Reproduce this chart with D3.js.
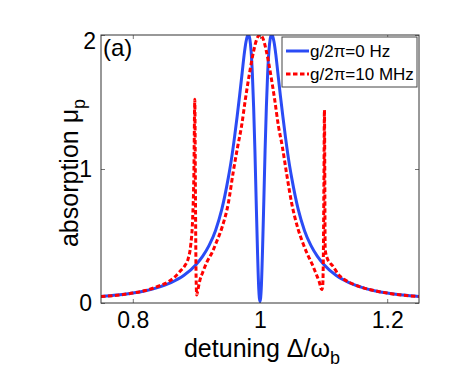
<!DOCTYPE html>
<html>
<head>
<meta charset="utf-8">
<script src="https://cdn.jsdelivr.net/npm/d3@7"></script>
<style>
  body { margin: 0; background: #fff; }
  svg { font-family: "Liberation Sans", Arial, sans-serif; }
</style>
</head>
<body>
<div id="chart"><svg></svg></div>
<script>
// detuning values (Delta / omega_b) and absorption
const blueX = [0.75,0.775,0.80,0.82,0.84,0.86,0.88,0.90,0.91,0.92,0.93,0.94,0.95,0.955,0.96,0.964,0.968,0.972,0.975,0.978,
               0.980,0.982,0.984,0.986,0.988,0.990,0.992,0.994,0.996,0.998,1.0,
               1.002,1.004,1.006,1.008,1.010,1.012,1.014,1.016,1.018,1.020,1.022,1.025,1.028,1.032,1.036,1.040,1.045,1.05,1.06,
               1.07,1.08,1.09,1.10,1.12,1.14,1.16,1.18,1.20,1.225,1.25];
const blueY = [0.048,0.059,0.074,0.092,0.117,0.152,0.205,0.29,0.35,0.43,0.54,0.70,0.93,1.07,1.24,1.39,1.55,1.72,1.85,1.95,
               1.99,2.0,1.97,1.88,1.71,1.46,1.14,0.76,0.40,0.11,0.01,
               0.11,0.40,0.76,1.14,1.46,1.71,1.88,1.97,2.0,1.99,1.95,1.85,1.72,1.55,1.39,1.24,1.07,0.93,0.70,
               0.54,0.43,0.35,0.29,0.205,0.152,0.117,0.092,0.074,0.059,0.048];

const redX = [0.75,0.775,0.80,0.82,0.84,0.855,0.865,0.875,0.882,0.887,
              0.891,0.894,0.896,0.8975,0.8985,0.8995,0.9005,0.902,0.905,0.910,
              0.916,0.925,0.932,0.940,0.950,0.958,0.965,0.971,0.977,0.983,
              0.990,0.995,1.000,1.005,1.010,1.017,1.023,1.029,1.035,1.042,
              1.050,1.060,1.068,1.075,1.082,1.088,1.093,1.097,1.0985,1.0995,
              1.1005,1.1013,1.1025,1.106,1.110,1.1155,1.122,1.131,1.14,1.16,
              1.18,1.20,1.225,1.25];
const redY = [0.048,0.058,0.074,0.093,0.125,0.155,0.19,0.24,0.28,0.33,
              0.43,0.62,0.95,1.52,0.80,0.20,0.06,0.09,0.16,0.23,
              0.30,0.38,0.46,0.56,0.74,0.98,1.17,1.32,1.52,1.70,
              1.88,1.97,2.0,1.97,1.88,1.70,1.52,1.32,1.17,0.96,
              0.74,0.55,0.44,0.36,0.29,0.22,0.16,0.10,0.12,0.30,
              0.90,1.44,0.40,0.33,0.30,0.27,0.22,0.18,0.155,0.117,
              0.092,0.074,0.058,0.048];

const xTicks = [0.8, 1, 1.2];
const yTicks = [0, 1, 2];
const seriesNames = ["g/2\u03c0=0 Hz", "g/2\u03c0=10 MHz"];

var margin = { top: 35, right: 50, bottom: 81, left: 101 },
    width = 469 - margin.left - margin.right,
    height = 384 - margin.top - margin.bottom;

const root = d3.select("#chart").select("svg")
    .attr("width", 469)
    .attr("height", 384);

root.append("rect").attr("width", 469).attr("height", 384).attr("fill", "#fff");

const svg = root.append("g")
    .attr("transform", "translate(" + margin.left + "," + margin.top + ")");

var x = d3.scaleLinear().domain([0.75, 1.25]).range([0, width]);
var y = d3.scaleLinear().domain([0, 2]).range([height, 0]);

svg.append("clipPath").attr("id", "clip")
  .append("rect").attr("width", width).attr("height", height);

// ticks inside the box (matlab style)
svg.append("g").attr("class", "x axis")
    .attr("transform", "translate(0," + height + ")")
    .call(d3.axisBottom(x).tickValues(xTicks).tickSize(-4).tickPadding(9).tickFormat(d3.format("")));
svg.append("g")
    .call(d3.axisTop(x).tickValues(xTicks).tickSize(-4).tickFormat(""));
svg.append("g").attr("class", "y axis")
    .call(d3.axisLeft(y).tickValues(yTicks).tickSize(-4).tickPadding(9).tickFormat(d3.format("")));
svg.append("g")
    .attr("transform", "translate(" + width + ",0)")
    .call(d3.axisRight(y).tickValues(yTicks).tickSize(-4).tickFormat(""));

svg.selectAll(".domain").remove();
svg.selectAll(".tick line").attr("stroke", "#777");
svg.selectAll(".tick text")
    .attr("fill", "#000")
    .style("font-size", "23px");

// the top y label sits a little lower in the figure
svg.selectAll(".y.axis .tick text").filter(function (d) { return d === 2; })
    .attr("dy", "0.6em").attr("x", -5);

var line = d3.line()
    .x(function (d) { return x(d[0]); })
    .y(function (d) { return y(d[1]); })
    .curve(d3.curveMonotoneX);

const plot = svg.append("g").attr("clip-path", "url(#clip)");

plot.append("path")
    .datum(blueX.map(function (v, i) { return [v, blueY[i]]; }))
    .attr("fill", "none")
    .attr("stroke", "#2a4bf5")
    .attr("stroke-width", 3)
    .attr("d", line);

plot.append("path")
    .datum(redX.map(function (v, i) { return [v, redY[i]]; }))
    .attr("fill", "none")
    .attr("stroke", "#ff0000")
    .attr("stroke-width", 3)
    .attr("stroke-dasharray", "4.5,2.5")
    .attr("d", line);

// box
svg.append("rect")
    .attr("width", width).attr("height", height)
    .attr("fill", "none")
    .attr("stroke", "#333")
    .attr("stroke-width", 1);

svg.append("text")
    .attr("x", 2).attr("y", 21)
    .style("font-size", "24px")
    .text("(a)");

// legend
const lg = svg.append("g").attr("transform", "translate(" + (width - 137) + ",2)");
lg.append("rect")
    .attr("width", 135).attr("height", 50)
    .attr("fill", "#fff").attr("stroke", "#444");
const styles = [{ c: "#2a4bf5", dash: null }, { c: "#ff0000", dash: "4.5,2.5" }];
seriesNames.forEach(function (name, i) {
    lg.append("line")
        .attr("x1", 4).attr("x2", 27)
        .attr("y1", 14 + i * 23).attr("y2", 14 + i * 23)
        .attr("stroke", styles[i].c).attr("stroke-width", 3)
        .attr("stroke-dasharray", styles[i].dash);
    lg.append("text")
        .attr("x", 28).attr("y", 20 + i * 23)
        .style("font-size", "17px")
        .text(name);
});

// axis titles
const xt = svg.append("text")
    .attr("text-anchor", "middle")
    .attr("x", x(1) + 2).attr("y", height + 54)
    .style("font-size", "25px");
xt.append("tspan").text("detuning \u0394/\u03c9");
xt.append("tspan").attr("dy", 7).style("font-size", "18px").text("b");

const yt = svg.append("text")
    .attr("text-anchor", "middle")
    .attr("transform", "translate(-23," + (height / 2 + 4) + ") rotate(-90)")
    .style("font-size", "25px");
yt.append("tspan").text("absorption \u03bc");
yt.append("tspan").attr("dy", 7).style("font-size", "18px").text("p");
</script>
</body>
</html>
